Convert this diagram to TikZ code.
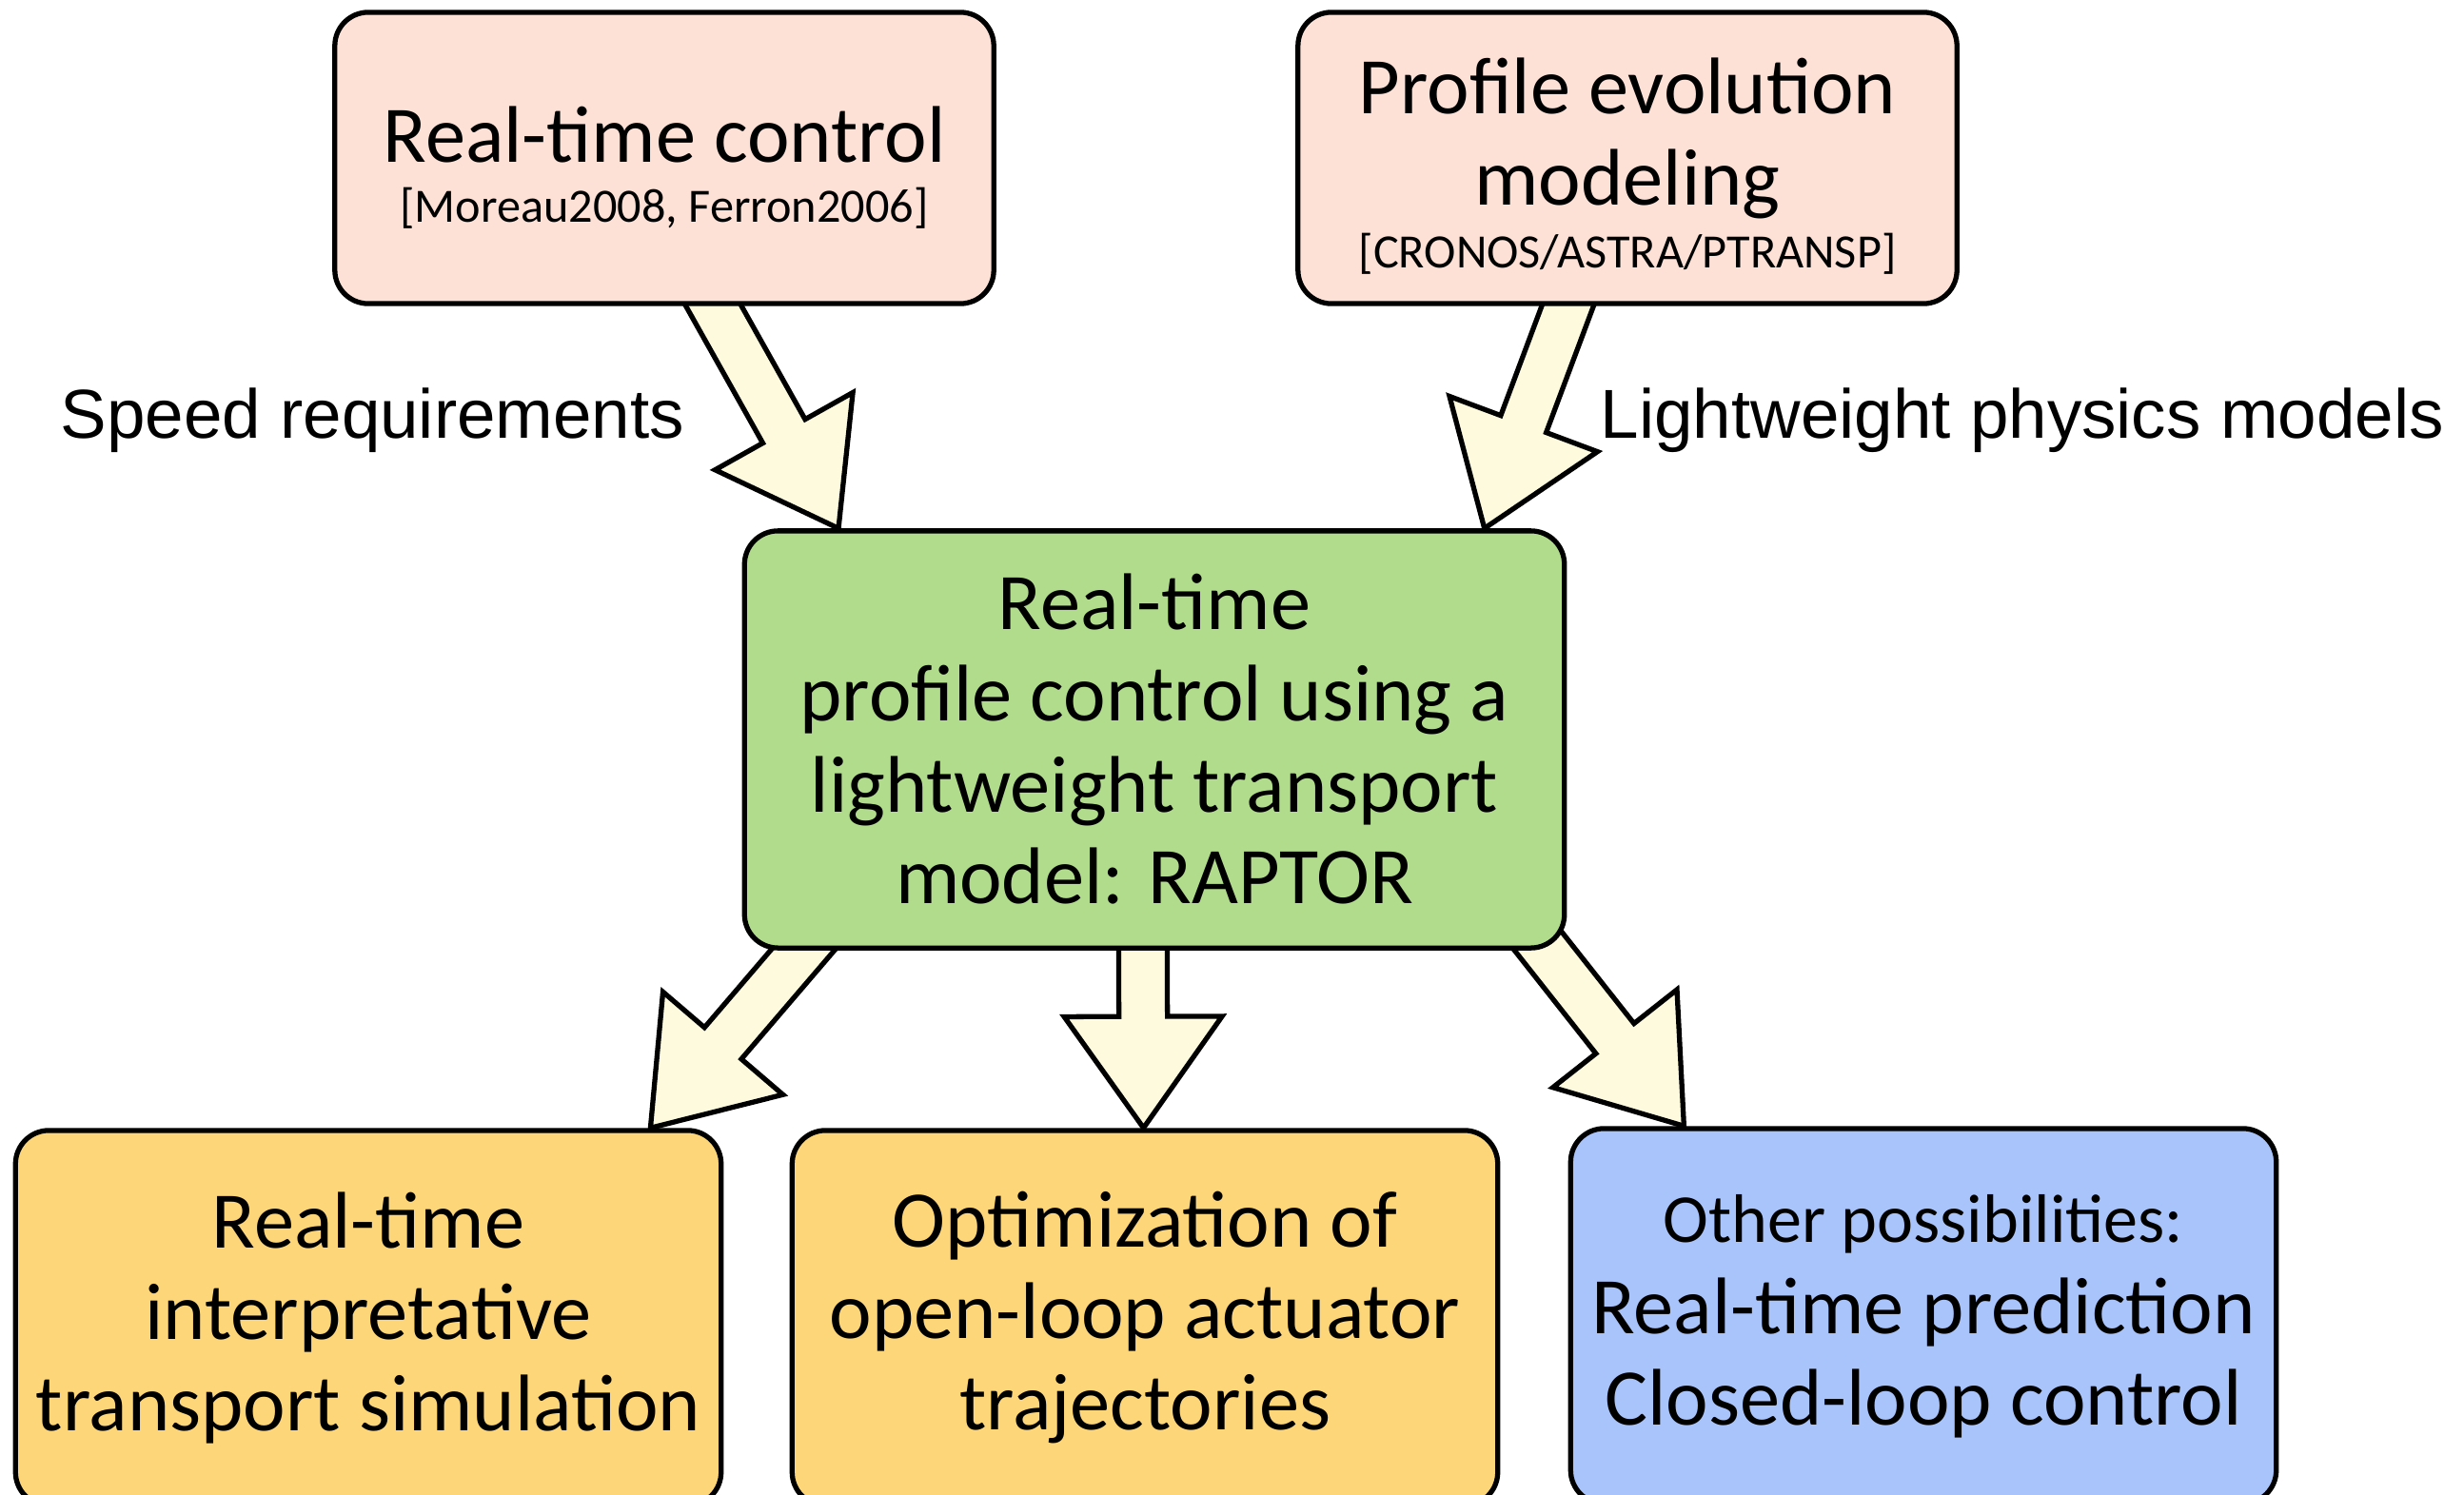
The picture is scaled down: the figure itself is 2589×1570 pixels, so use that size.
\documentclass[tikz,border=0pt]{standalone}
\usepackage{fontspec}
\setmainfont{Carlito}
\newfontfamily\labelfont{Liberation Sans}
\usetikzlibrary{calc,backgrounds}

\definecolor{srcpink}{RGB}{253,225,214}
\definecolor{coregreen}{RGB}{177,220,140}
\definecolor{useyellow}{RGB}{252,214,120}
\definecolor{useblue}{RGB}{168,196,250}
\definecolor{arrowfill}{RGB}{254,250,222}

\newcommand{\bigsize}{\fontsize{24}{27.3}\selectfont}
\newcommand{\refsize}{\fontsize{14.3}{17}\selectfont}
\newcommand{\midsize}{\fontsize{20.5}{24}\selectfont}

\tikzset{
  box/.style={draw=black, line width=1.5pt, rounded corners=10pt, align=center, font=\bigsize},
  srcbox/.style={box, fill=srcpink, minimum width=6.92cm, minimum height=3.06cm},
  corebox/.style={box, fill=coregreen, minimum width=8.61cm, minimum height=4.38cm},
  usebox/.style={box, minimum width=7.41cm, minimum height=3.94cm},
  side label/.style={anchor=west, inner sep=0pt, font=\labelfont\fontsize{20.7}{24}\selectfont},
  fatarrow/.style={draw=black, line width=1.5pt, fill=arrowfill, line join=miter}
}

\newcommand{\fatarrow}[2]{%
  \coordinate (hb) at ($(#2)!33.3pt!(#1)$);
  \draw[fatarrow] ($(#1)!7.25pt!90:(#2)$) -- ($(hb)!7.25pt!-90:(#1)$) -- ($(hb)!23.6pt!-90:(#1)$)
    -- (#2) -- ($(hb)!23.6pt!90:(#1)$) -- ($(hb)!7.25pt!90:(#1)$) -- ($(#1)!7.25pt!-90:(#2)$) -- cycle;}

\begin{document}
\begin{tikzpicture}[x=0.01cm,y=-0.01cm]
\path[use as bounding box, clip] (0,0) rectangle (2589,1570);

\node[srcbox] (ctrl) at (698,166) {\rule{0pt}{22.4pt}Real-time control\\[-9.6pt]{\refsize [Moreau2008, Ferron2006]}};
\node[srcbox] (model) at (1710,166) {\rule{0pt}{21.5pt}Profile evolution\\modeling\\[-8.7pt]{\refsize [CRONOS/ASTRA/PTRANSP]}};
\node[corebox] (core) at (1213,777) {Real-time\\profile control using a\\lightweight transport\\model: RAPTOR};
\node[usebox, fill=useyellow] (interp) at (387,1385) {Real-time\\interpretative\\transport simulation};
\node[usebox, fill=useyellow] (optim) at (1203,1385) {Optimization of\\open-loop actuator\\trajectories};
\node[usebox, fill=useblue] (other) at (2021,1383) {{\midsize Other possibilities:}\\Real-time prediction\\Closed-loop control};

\node[side label] (speed) at (63,442) {Speed requirements};
\node[side label] (light) at (1681,442) {Lightweight physics models};

\coordinate (s1) at ($(ctrl.south west)!0.56!(ctrl.south east)+(0,-18)$);
\coordinate (t1) at ($(core.north west)!0.117!(core.north east)$);
\coordinate (s2) at ($(model.south west)!0.42!(model.south east)+(0,-19)$);
\coordinate (t2) at ($(core.north west)!0.90!(core.north east)$);
\coordinate (s3) at ($(core.south west)!0.094!(core.south east)+(0,-21)$);
\coordinate (t3) at ($(interp.north west)!0.897!(interp.north east)$);
\coordinate (s4) at ($(core.south west)!0.486!(core.south east)+(0,-16)$);
\coordinate (t4) at ($(optim.north west)!0.498!(optim.north east)$);
\coordinate (s5) at ($(core.south west)!0.954!(core.south east)+(0,-22)$);
\coordinate (t5) at ($(other.north west)!0.163!(other.north east)$);

\begin{scope}[on background layer]
\fatarrow{s1}{t1}
\fatarrow{s2}{t2}
\fatarrow{s3}{t3}
\fatarrow{s4}{t4}
\fatarrow{s5}{t5}
\end{scope}
\end{tikzpicture}
\end{document}
